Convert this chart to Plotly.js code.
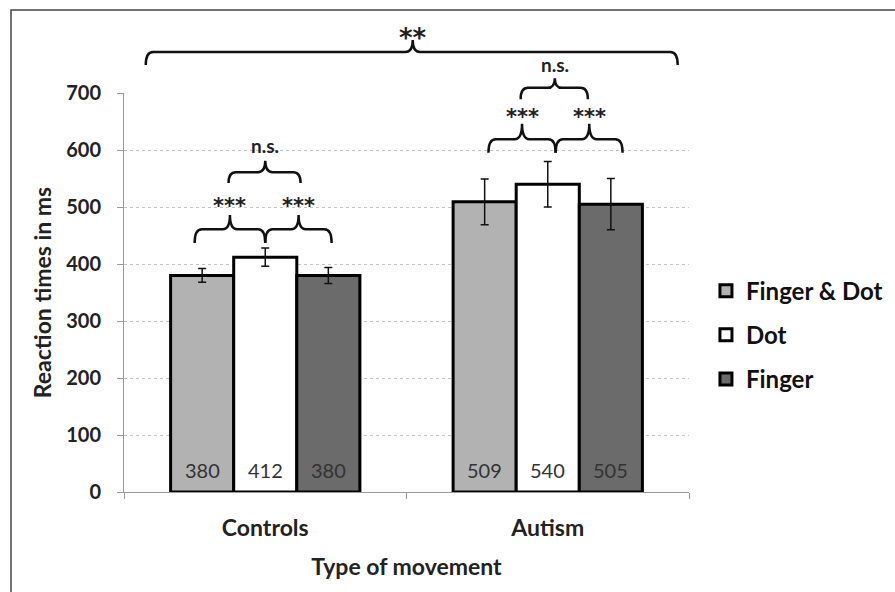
<!DOCTYPE html>
<html><head><meta charset="utf-8">
<script src="https://cdn.plot.ly/plotly-3.0.1.min.js"></script>
<style>html,body{margin:0;padding:0;background:#fff}#chart{width:895px;height:592px}</style>
</head><body><div id="chart"></div>
<script>
const groups = ['Controls', 'Autism'];
const seriesNames = ['Finger & Dot', 'Dot', 'Finger'];
const fingerDotRT = [380, 509];
const dotRT = [412, 540];
const fingerRT = [380, 505];
const fingerDotSE = [12, 40];
const dotSE = [16, 40];
const fingerSE = [14, 45];
const yTicks = [0, 100, 200, 300, 400, 500, 600, 700];

const seriesValues = [fingerDotRT, dotRT, fingerRT];
const seriesErr = [fingerDotSE, dotSE, fingerSE];
const fills = ['#b2b2b2', '#ffffff', '#6b6b6b'];
const FONT = 'Lato, "Open Sans", sans-serif';
const STAR_FONT = '"DejaVu Sans", sans-serif';
const Y_MAX = 700;
const BARGAP = 0.33;
const barW = (1 - BARGAP) / seriesNames.length;

const traces = seriesNames.map((name, i) => ({
  type: 'bar', name: name, x: groups, y: seriesValues[i],
  marker: {color: fills[i], line: {color: '#000', width: 3}},
  error_y: {type: 'data', array: seriesErr[i], visible: true, color: '#111', thickness: 1.5, width: 4},
  legendgroup: 'g' + i, hoverinfo: 'none'
}));

function px(idx) { return (idx + 0.5) / groups.length; }
function py(v) { return v / Y_MAX; }

function brace(a, b, tip, yEnd, yBar, yTop) {
  const r = 0.013;
  const X0 = px(a), X1 = px(b), XM = px(tip);
  const E = py(yEnd), B = py(yBar), T = py(yTop);
  return `M${X0},${E} Q${X0},${B} ${X0 + r},${B} L${XM - r},${B} Q${XM},${B} ${XM},${T} ` +
         `M${XM},${T} Q${XM},${B} ${XM + r},${B} L${X1 - r},${B} Q${X1},${B} ${X1},${E}`;
}

// bracket specs: [left, right, tip, yEnd, yBar, yTip, label, fontsize, family, yshift]
const braces = [
  [-0.25, 0, -0.125, 437, 461, 486, '***', 21, STAR_FONT, -5],
  [0, 0.235, 0.118, 437, 461, 486, '***', 21, STAR_FONT, -5],
  [-0.13, 0.125, 0, 542, 561, 581, 'n.s.', 19, FONT, 2],
  [0.79, 1.028, 0.909, 595, 619, 646, '***', 21, STAR_FONT, -7],
  [1.028, 1.265, 1.147, 595, 619, 646, '***', 21, STAR_FONT, -7],
  [0.904, 1.142, 1.025, 689, 709, 726, 'n.s.', 19, FONT, 0],
  [-0.423, 1.46, 0.522, 749, 772, 793, '**', 26, STAR_FONT, -15]
];

const shapes = [{
  type: 'rect', xref: 'paper', yref: 'paper', x0: -0.2, x1: 1.6, y0: -0.5, y1: 1.208,
  line: {color: '#444', width: 1.5}, layer: 'below'
}];
const annotations = [];
braces.forEach(bs => {
  shapes.push({type: 'path', xref: 'paper', yref: 'paper',
    path: brace(bs[0], bs[1], bs[2], bs[3], bs[4], bs[5]),
    line: {color: '#111', width: 2.5}});
  annotations.push({xref: 'paper', yref: 'paper', x: px(bs[2]), y: py(bs[5]),
    xanchor: 'center', yanchor: 'bottom', yshift: bs[9], showarrow: false, text: bs[6],
    font: {family: bs[8], size: bs[7], color: '#222', weight: 700}});
});
seriesValues.forEach((vals, i) => {
  vals.forEach((v, g) => {
    annotations.push({xref: 'x', yref: 'y', x: g + (i - 1) * barW, y: 0,
      yanchor: 'bottom', yshift: 8, showarrow: false, text: String(v),
      font: {family: FONT, size: 20, color: '#333'}});
  });
});

const layout = {
  width: 895, height: 592,
  margin: {l: 124, r: 206, t: 93, b: 100, autoexpand: false},
  paper_bgcolor: '#fff', plot_bgcolor: '#fff',
  font: {family: FONT, color: '#222'},
  barmode: 'group', bargap: BARGAP, bargroupgap: 0,
  showlegend: true,
  legend: {x: 1.03, y: 0.56, xanchor: 'left', yanchor: 'top',
    font: {family: FONT, size: 24, weight: 700, color: '#111'},
    tracegroupgap: 10, itemwidth: 30, bgcolor: 'rgba(0,0,0,0)'},
  xaxis: {type: 'category', tickson: 'boundaries', ticks: 'outside', ticklen: 6,
    tickcolor: '#999', showline: true, linecolor: '#999', linewidth: 1,
    tickfont: {family: FONT, size: 23, weight: 700, color: '#222'},
    ticklabelstandoff: 15, automargin: false, fixedrange: true,
    title: {text: 'Type of movement', font: {family: FONT, size: 23, weight: 700, color: '#222'}, standoff: 19}},
  yaxis: {range: [0, Y_MAX], tickvals: yTicks, ticks: 'outside', ticklen: 6, tickcolor: '#999',
    showline: true, linecolor: '#999', linewidth: 1, zeroline: false,
    showgrid: true, gridcolor: '#c4c4c4', griddash: 'dot', gridwidth: 1,
    tickfont: {family: FONT, size: 20, weight: 700, color: '#222'},
    ticklabelstandoff: 12, automargin: false, fixedrange: true,
    title: {text: 'Reaction times in ms', font: {family: FONT, size: 23, weight: 700, color: '#222'}, standoff: 8}},
  shapes: shapes,
  annotations: annotations
};

Plotly.newPlot('chart', traces, layout, {staticPlot: true, displayModeBar: false});
</script>
</body></html>
